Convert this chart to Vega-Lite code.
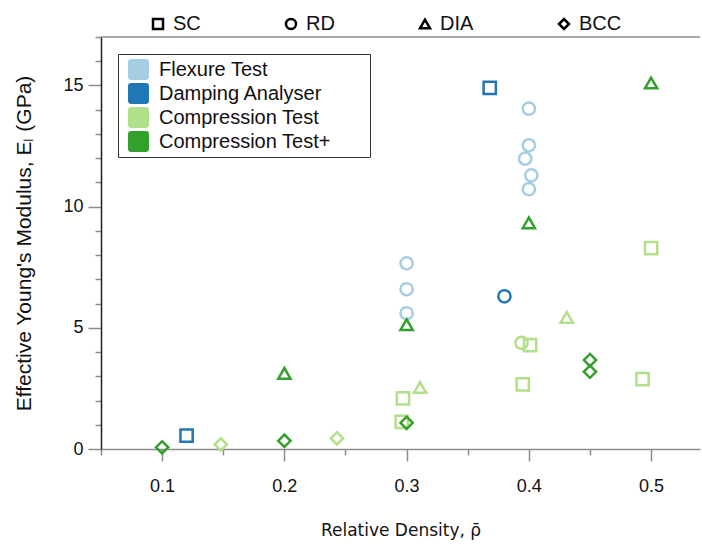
{
  "$schema": "https://vega.github.io/schema/vega-lite/v6.json",
  "width": 599,
  "height": 412,
  "autosize": {"type": "none"},
  "padding": {"left": 101, "top": 37, "right": 2, "bottom": 95},
  "background": "white",
  "config": {
    "font": "Liberation Sans",
    "view": {"stroke": null},
    "axis": {"grid": false}
  },
  "data": {
    "values": [
      {"method": "Flexure Test", "lattice": "RD", "density": 0.3, "modulus": 7.66},
      {"method": "Flexure Test", "lattice": "RD", "density": 0.3, "modulus": 6.59},
      {"method": "Flexure Test", "lattice": "RD", "density": 0.3, "modulus": 5.6},
      {"method": "Flexure Test", "lattice": "RD", "density": 0.4, "modulus": 14.04},
      {"method": "Flexure Test", "lattice": "RD", "density": 0.4, "modulus": 12.53},
      {"method": "Flexure Test", "lattice": "RD", "density": 0.397, "modulus": 11.98},
      {"method": "Flexure Test", "lattice": "RD", "density": 0.402, "modulus": 11.29},
      {"method": "Flexure Test", "lattice": "RD", "density": 0.4, "modulus": 10.72},
      {"method": "Damping Analyser", "lattice": "SC", "density": 0.12, "modulus": 0.55},
      {"method": "Damping Analyser", "lattice": "SC", "density": 0.368, "modulus": 14.9},
      {"method": "Damping Analyser", "lattice": "RD", "density": 0.38, "modulus": 6.3},
      {"method": "Compression Test", "lattice": "RD", "density": 0.394, "modulus": 4.38},
      {"method": "Compression Test", "lattice": "SC", "density": 0.296, "modulus": 1.12},
      {"method": "Compression Test", "lattice": "SC", "density": 0.297, "modulus": 2.09},
      {"method": "Compression Test", "lattice": "SC", "density": 0.395, "modulus": 2.67},
      {"method": "Compression Test", "lattice": "SC", "density": 0.401, "modulus": 4.29},
      {"method": "Compression Test", "lattice": "SC", "density": 0.493, "modulus": 2.88},
      {"method": "Compression Test", "lattice": "SC", "density": 0.5, "modulus": 8.29},
      {"method": "Compression Test", "lattice": "DIA", "density": 0.311, "modulus": 2.54},
      {"method": "Compression Test", "lattice": "DIA", "density": 0.431, "modulus": 5.43},
      {"method": "Compression Test", "lattice": "BCC", "density": 0.148, "modulus": 0.19},
      {"method": "Compression Test", "lattice": "BCC", "density": 0.243, "modulus": 0.44},
      {"method": "Compression Test+", "lattice": "DIA", "density": 0.2, "modulus": 3.12},
      {"method": "Compression Test+", "lattice": "DIA", "density": 0.3, "modulus": 5.13},
      {"method": "Compression Test+", "lattice": "DIA", "density": 0.4, "modulus": 9.33},
      {"method": "Compression Test+", "lattice": "DIA", "density": 0.5, "modulus": 15.1},
      {"method": "Compression Test+", "lattice": "BCC", "density": 0.1, "modulus": 0.07},
      {"method": "Compression Test+", "lattice": "BCC", "density": 0.2, "modulus": 0.34},
      {"method": "Compression Test+", "lattice": "BCC", "density": 0.3, "modulus": 1.08},
      {"method": "Compression Test+", "lattice": "BCC", "density": 0.45, "modulus": 3.67},
      {"method": "Compression Test+", "lattice": "BCC", "density": 0.45, "modulus": 3.19}
    ]
  },
  "layer": [
    {
      "mark": {"type": "square", "size": 0, "opacity": 0},
      "encoding": {
        "color": {
          "field": "method",
          "type": "nominal",
          "scale": {
            "domain": ["Flexure Test", "Damping Analyser", "Compression Test", "Compression Test+"],
            "range": ["#a6cee3", "#1f78b4", "#b2df8a", "#33a02c"]
          },
          "legend": {
            "orient": "top-left",
            "offset": 17,
            "title": null,
            "strokeColor": "#333",
            "padding": 5,
            "symbolType": "M-0.7,-1L0.7,-1Q1,-1,1,-0.7L1,0.7Q1,1,0.7,1L-0.7,1Q-1,1,-1,0.7L-1,-0.7Q-1,-1,-0.7,-1Z",
            "symbolSize": 441,
            "symbolOpacity": 1,
            "symbolStrokeWidth": 0,
            "symbolOffset": 5,
            "labelFontSize": 20,
            "labelColor": "#111",
            "labelOffset": 10,
            "labelLimit": 400,
            "labelExpr": "datum.label + '\u00a0\u00a0\u00a0\u00a0\u00a0\u00a0\u200b'",
            "rowPadding": 3
          }
        }
      }
    },
    {
      "data": {"values": [{"top": 17}]},
      "mark": {"type": "rule", "color": "#8c8c8c", "strokeWidth": 1.5},
      "encoding": {
        "y": {
          "field": "top",
          "type": "quantitative",
          "title": "Effective Young's Modulus, Eₗ (GPa)",
          "scale": {"domain": [0, 17], "nice": false},
          "axis": {
            "values": [0, 1, 2, 3, 4, 5, 6, 7, 8, 9, 10, 11, 12, 13, 14, 15, 16, 17],
            "labelExpr": "datum.value % 5 === 0 ? datum.label : ''",
            "labelOverlap": false,
            "tickSize": {"condition": {"test": "datum.value % 5 === 0", "value": 13}, "value": 6},
            "tickColor": "#8c8c8c",
            "tickWidth": 1.5,
            "domainColor": "#222",
            "domainWidth": 1.5,
            "labelFontSize": 18,
            "labelColor": "#111",
            "labelPadding": 5,
            "labelFlush": false,
            "titleFontSize": 21,
            "titleFontWeight": "normal",
            "titleColor": "#111",
            "titlePadding": 28
          }
        }
      }
    },
    {
      "mark": {"type": "point", "filled": false, "strokeWidth": 2.5, "size": 150, "opacity": 1},
      "encoding": {
        "x": {
          "field": "density",
          "type": "quantitative",
          "title": "Relative Density, ρ̄",
          "scale": {"domain": [0.05, 0.54], "nice": false, "zero": false},
          "axis": {
            "values": [0.05, 0.1, 0.15, 0.2, 0.25, 0.3, 0.35, 0.4, 0.45, 0.5],
            "labelExpr": "abs(datum.value*10 - round(datum.value*10)) < 0.001 ? format(datum.value, '.1f') : ''",
            "labelOverlap": false,
            "tickSize": {"condition": {"test": "abs(datum.value*10 - round(datum.value*10)) < 0.001", "value": 12}, "value": 6},
            "tickColor": "#8c8c8c",
            "tickWidth": 1.5,
            "domainColor": "#8c8c8c",
            "domainWidth": 1.5,
            "labelFontSize": 18,
            "labelColor": "#111",
            "labelPadding": 16,
            "labelFlush": false,
            "titleFont": "DejaVu Sans",
            "titleFontSize": 17,
            "titleFontWeight": "normal",
            "titleColor": "#111",
            "titlePadding": 27
          }
        },
        "y": {
          "field": "modulus",
          "type": "quantitative",
          "title": "Effective Young's Modulus, Eₗ (GPa)",
          "scale": {"domain": [0, 17], "nice": false},
          "axis": {
            "values": [0, 1, 2, 3, 4, 5, 6, 7, 8, 9, 10, 11, 12, 13, 14, 15, 16, 17],
            "labelExpr": "datum.value % 5 === 0 ? datum.label : ''",
            "labelOverlap": false,
            "tickSize": {"condition": {"test": "datum.value % 5 === 0", "value": 13}, "value": 6},
            "tickColor": "#8c8c8c",
            "tickWidth": 1.5,
            "domainColor": "#222",
            "domainWidth": 1.5,
            "labelFontSize": 18,
            "labelColor": "#111",
            "labelPadding": 5,
            "labelFlush": false,
            "titleFontSize": 21,
            "titleFontWeight": "normal",
            "titleColor": "#111",
            "titlePadding": 28
          }
        },
        "color": {
          "field": "method",
          "type": "nominal",
          "scale": {
            "domain": ["Flexure Test", "Damping Analyser", "Compression Test", "Compression Test+"],
            "range": ["#a6cee3", "#1f78b4", "#b2df8a", "#33a02c"]
          },
          "legend": null
        },
        "shape": {
          "field": "lattice",
          "type": "nominal",
          "scale": {
            "domain": ["SC", "RD", "DIA", "BCC"],
            "range": ["square", "circle", "triangle-up", "diamond"]
          },
          "legend": {
            "orient": "none",
            "legendX": 47,
            "legendY": -23,
            "direction": "horizontal",
            "title": null,
            "padding": 0,
            "symbolStrokeColor": "black",
            "symbolFillColor": "transparent",
            "symbolStrokeWidth": 2.5,
            "symbolSize": 100,
            "labelFontSize": 20,
            "labelColor": "#111",
            "labelOffset": 5,
            "columnPadding": 80
          }
        }
      }
    }
  ]
}
